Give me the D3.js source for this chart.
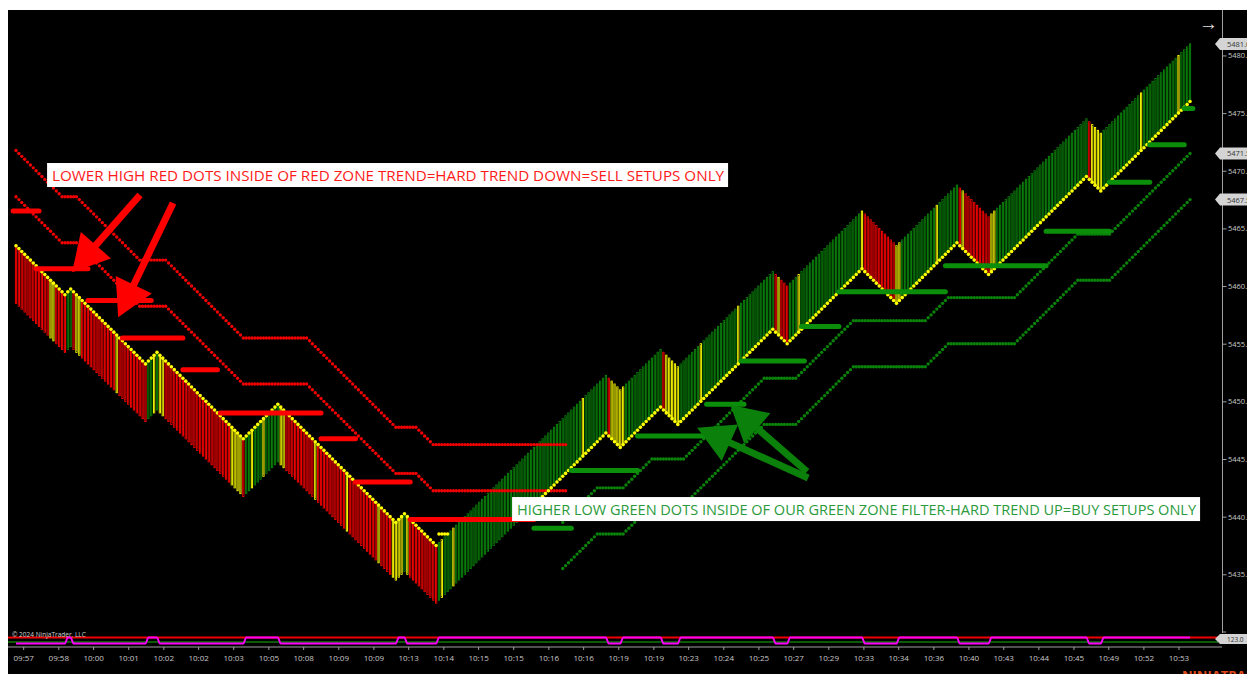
<!DOCTYPE html>
<html><head><meta charset="utf-8">
<script src="https://cdn.jsdelivr.net/npm/d3@7"></script>
<style>
html,body{margin:0;padding:0;background:#fff;}
svg{display:block;font-family:"Open Sans","Noto Sans",sans-serif;}
</style></head><body>
<svg id="c" width="1247" height="674"></svg>
<script>
// ================= DATA =================
const startHigh = 5463.5;          // high of the first bar
const barRange = 5.0;              // every bar spans 5 points
const tickSize = 0.25;             // each bar shifts one tick
// runs of consecutive bars: +n = n bars stepping up, -n = n bars stepping down
const barRuns = [-17, 2, -26, 4, -30, 12, -41, 3, -11, 59, -5, 14, -6, 33, -5, 26, -12, 21, -11, 34, -5, 31];
// bars drawn in yellow
const yellowBars = [12,13,21,22,35,48,50,51,75,76,77,78,82,86,92,93,104,115,126,131,132,133,134,136,148,152,
  197,207,208,209,210,211,226,227,228,229,230,238,251,265,272,294,306,307,320,329,339,340,374,375,376,377,391,404];
// yellow trailing dots: on bar highs up to this bar, on bar lows afterwards
const yellowSwitchBar = 146;
const yellowHold = [[147,150,5438.5],[151,174,5439.75]];

// red stepped dot lines (upper / lower): runs of [bars, ticks per bar]
const redStartBar = 0;
const redUpperStart = 5471.75;
const redLowerStart = 5467.75;
const redRuns = [[16,-1],[5,0],[22,-1],[9,0],[27,-1],[22,0],[31,-1],[7,0],[6,-1],[46,0]];

// green stepped dot lines (upper / lower)
const greenStartBar = 190;
const greenUpperStart = 5439.5;
const greenLowerStart = 5435.5;
const greenRuns = [[12,1],[9,0],[10,1],[11,0],[28,1],[11,0],[20,1],[25,0],[8,1],[23,0],[22,1],[11,0],[28,1]];

// red horizontal "lower high" dashes
const redDashFrom  = [-1, 7, 25, 37, 58, 71, 106, 118, 137];
const redDashTo    = [8, 25, 47, 58, 70, 106, 118, 137, 180];
const redDashPrice = [5466.5, 5461.5, 5458.75, 5455.5, 5452.75, 5449.0, 5446.75, 5443.0, 5439.75];

// green horizontal "higher low" dashes
const greenDashFrom  = [180, 193, 216, 240, 252, 273, 286, 323, 358, 380, 394, 406];
const greenDashTo    = [193, 216, 239, 253, 274, 286, 323, 358, 380, 394, 406, 409];
const greenDashPrice = [5439.0, 5444.0, 5447.0, 5449.75, 5453.5, 5456.5, 5459.5, 5461.75, 5464.75, 5469.0, 5472.25, 5475.4];

// price axis
const priceTicks = [5435, 5440, 5445, 5450, 5455, 5460, 5465, 5470, 5475, 5480];
// time axis (bar positions of labels)
const timeTickBars = [2.5,14.7,26.8,39.0,51.2,63.3,75.5,87.7,99.8,112.0,124.2,136.3,148.5,160.6,172.8,185.0,197.1,
  209.3,221.5,233.6,245.8,258.0,270.1,282.3,294.5,306.6,318.8,331.0,343.1,355.3,367.5,379.6,391.8,404.0];
const timeLabels = ["09:57","09:58","10:00","10:01","10:02","10:02","10:03","10:05","10:08","10:09","10:09","10:13",
  "10:14","10:15","10:15","10:16","10:16","10:19","10:19","10:23","10:24","10:25","10:27","10:29","10:33","10:34",
  "10:36","10:40","10:43","10:44","10:45","10:49","10:52","10:53"];

// annotations: arrows [fromBar, fromPrice, toBar, toPrice]
const redArrows = [[43.1, 5467.9, 19.5, 5461.2], [54.6, 5467.2, 35.5, 5457.3]];
const greenArrows = [[275.3, 5443.35, 236.7, 5447.7], [274.9, 5443.9, 248.2, 5449.7]];
const notes = [
  {bar: 10.8, price: 5470.67, text: "LOWER HIGH RED DOTS INSIDE OF RED ZONE TREND=HARD TREND DOWN=SELL SETUPS ONLY", color: "#ff1a1a", len: 672},
  {bar: 172.4, price: 5441.7, text: "HIGHER LOW GREEN DOTS INSIDE OF OUR GREEN ZONE FILTER-HARD TREND UP=BUY SETUPS ONLY", color: "#2a9a3c", len: 679}
];

// ================= BUILD =================
const svg = d3.select('#c');
const W = 1247, H = 674;
svg.append('rect').attr('x', 8).attr('y', 10).attr('width', W - 8).attr('height', H - 10).attr('fill', '#000');

const x = d3.scaleLinear().domain([0, 408]).range([16, 1190]);
const y = d3.scaleLinear().domain([5435, 5480]).range([574.3, 55.45]);

svg.append('clipPath').attr('id', 'plot').append('rect').attr('x', 8).attr('y', 10).attr('width', 1210).attr('height', 623);
const g = svg.append('g').attr('clip-path', 'url(#plot)');

// bars
const bars = [{i: 0, high: startHigh, dir: -1}];
{ let h = startHigh, i = 0;
  barRuns.forEach(r => { const d = Math.sign(r); for (let k = 0; k < Math.abs(r); k++) { i++; h += d * tickSize; bars.push({i, high: h, dir: d}); } });
}
const ySet = new Set(yellowBars);
const barColor = d => ySet.has(d.i) ? '#f2f200' : (d.dir > 0 ? '#0a7d0a' : '#f00000');
g.append('g').selectAll('rect').data(bars).join('rect')
  .attr('x', d => x(d.i) - 0.6).attr('width', 1.2)
  .attr('y', d => y(d.high)).attr('height', d => y(d.high - barRange) - y(d.high))
  .attr('fill', 'none').attr('stroke', barColor).attr('stroke-width', 1);

// yellow trailing dots
const yellowPts = bars.map(b => {
  for (const [a, z, v] of yellowHold) if (b.i >= a && b.i <= z) return {i: b.i, v};
  return {i: b.i, v: b.i <= yellowSwitchBar ? b.high : b.high - barRange};
});

function stair(startBar, startVal, runs) {
  const pts = [{i: startBar, v: startVal}]; let i = startBar, v = startVal;
  runs.forEach(([n, s]) => { for (let k = 0; k < n; k++) { i++; v += s * tickSize; pts.push({i, v}); } });
  return pts;
}
const dotLayer = (pts, r, col) => g.append('g').selectAll('circle').data(pts).join('circle')
  .attr('cx', d => x(d.i)).attr('cy', d => y(d.v)).attr('r', r).attr('fill', col);

dotLayer(stair(redStartBar, redUpperStart, redRuns), 1.7, '#f00000');
dotLayer(stair(redStartBar, redLowerStart, redRuns), 1.7, '#f00000');
dotLayer(stair(greenStartBar, greenUpperStart, greenRuns), 1.7, '#0a820a');
dotLayer(stair(greenStartBar, greenLowerStart, greenRuns), 1.7, '#0a820a');
dotLayer(yellowPts, 1.8, '#ffff00');

// dashes
const dashLayer = (from, to, price, col) => g.append('g').selectAll('line').data(price).join('line')
  .attr('x1', (d, k) => x(from[k])).attr('x2', (d, k) => x(to[k]))
  .attr('y1', d => y(d)).attr('y2', d => y(d))
  .attr('stroke', col).attr('stroke-width', 5).attr('stroke-linecap', 'round');
dashLayer(redDashFrom, redDashTo, redDashPrice, '#ff0000');
dashLayer(greenDashFrom, greenDashTo, greenDashPrice, '#0b8f0b');

// arrows
function arrow(a, col) {
  const x1 = x(a[0]), y1 = y(a[1]), x2 = x(a[2]), y2 = y(a[3]);
  const dx = x2 - x1, dy = y2 - y1, L = Math.hypot(dx, dy), ux = dx / L, uy = dy / L;
  const hl = 36, hw = 20;
  const bx = x2 - ux * hl, by = y2 - uy * hl;
  g.append('line').attr('x1', x1).attr('y1', y1).attr('x2', bx + ux * 2).attr('y2', by + uy * 2)
    .attr('stroke', col).attr('stroke-width', 7);
  g.append('polygon').attr('points', [[x2, y2], [bx - uy * hw, by + ux * hw], [bx + uy * hw, by - ux * hw]].map(p => p.join(',')).join(' '))
    .attr('fill', col);
}
redArrows.forEach(a => arrow(a, '#ff0000'));
greenArrows.forEach(a => arrow(a, '#0b800b'));

// notes
notes.forEach(n => {
  const bx = x(n.bar), by = y(n.price);
  g.append('rect').attr('x', bx).attr('y', by).attr('width', n.len + 9).attr('height', 24).attr('fill', '#fff');
  g.append('text').attr('x', bx + 5).attr('y', by + 17.5).attr('fill', n.color)
    .attr('font-size', 14).attr('textLength', n.len).attr('lengthAdjust', 'spacingAndGlyphs').text(n.text);
});

// price axis
svg.append('line').attr('x1', 1222.5).attr('x2', 1222.5).attr('y1', 10).attr('y2', 633).attr('stroke', '#a0a0a0').attr('stroke-width', 1);
const ya = svg.append('g').attr('transform', 'translate(1222.5,0)')
  .call(d3.axisRight(y).tickValues(priceTicks).tickFormat(d3.format('.1f')).tickSize(4).tickPadding(1.5));
ya.select('.domain').remove();
ya.selectAll('line').attr('stroke', '#a0a0a0');
ya.selectAll('text').attr('fill', '#c8c8c8').attr('font-size', 7.5).attr('font-family', '"Open Sans",sans-serif');
svg.append('line').attr('x1', 1222).attr('x2', 1226).attr('y1', 632).attr('y2', 632).attr('stroke', '#a0a0a0');

// price tags
const tagVals = [bars[bars.length - 1].high,
  stair(greenStartBar, greenUpperStart, greenRuns).slice(-1)[0].v,
  stair(greenStartBar, greenLowerStart, greenRuns).slice(-1)[0].v];
tagVals.forEach(v => {
  const ty = y(v);
  svg.append('polygon').attr('points', `1215,${ty} 1220,${ty - 6} 1250,${ty - 6} 1250,${ty + 6} 1220,${ty + 6}`).attr('fill', '#d4d4d4');
  svg.append('text').attr('x', 1227).attr('y', ty + 3).attr('font-size', 7.5).attr('fill', '#333').text(d3.format('.1f')(v));
});

// lower panel
const py = d3.scaleLinear().domain([0, 1]).range([643.5, 637.5]);
svg.append('line').attr('x1', 8).attr('x2', 1218).attr('y1', 642).attr('y2', 642).attr('stroke', '#0a5a0a').attr('stroke-width', 2);
svg.append('line').attr('x1', 8).attr('x2', 1218).attr('y1', py(1)).attr('y2', py(1)).attr('stroke', '#f00000').attr('stroke-width', 2);
svg.append('path').datum(bars).attr('fill', 'none').attr('stroke', '#ff00ff').attr('stroke-width', 2)
  .attr('d', d3.line().x(d => x(d.i)).y(d => py(d.dir > 0 ? 1 : 0)).curve(d3.curveMonotoneX));
svg.append('polygon').attr('points', `1215,639 1220,634 1250,634 1250,644 1220,644`).attr('fill', '#d4d4d4');
svg.append('text').attr('x', 1227).attr('y', 642).attr('font-size', 6.5).attr('fill', '#333').text('123.0');

// time axis
const xa = svg.append('g').attr('transform', 'translate(0,647)')
  .call(d3.axisBottom(x).tickValues(timeTickBars).tickFormat((d, k) => timeLabels[k]).tickSize(3).tickPadding(5));
xa.select('.domain').remove();
svg.append('line').attr('x1', 8).attr('x2', 1222).attr('y1', 647).attr('y2', 647).attr('stroke', '#a0a0a0');
xa.selectAll('line').attr('stroke', '#a0a0a0');
xa.selectAll('text').attr('fill', '#c8c8c8').attr('font-size', 8).attr('font-family', '"Open Sans",sans-serif');

// misc texts
svg.append('text').attr('x', 12).attr('y', 637).attr('font-size', 6.5).attr('fill', '#d0d0d0').text('© 2024 NinjaTrader, LLC');
svg.append('text').attr('x', 1199).attr('y', 30).attr('font-size', 19).attr('fill', '#e0e0e0').text('→');
svg.append('text').attr('x', 1182).attr('y', 680).attr('font-size', 13).attr('font-weight', 'bold').attr('fill', '#e04a1a').text('NINJATRADER');
</script>
</body></html>
